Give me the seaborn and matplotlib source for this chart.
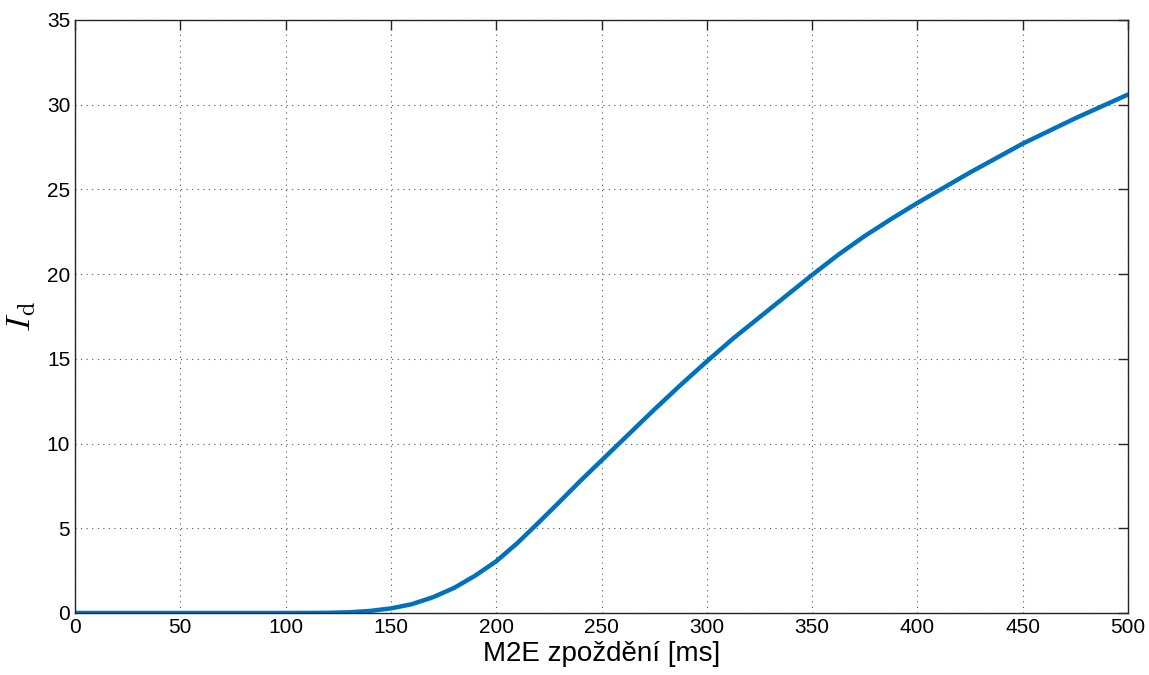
import matplotlib
matplotlib.use("Agg")
import matplotlib.pyplot as plt
import seaborn as sns
import pandas as pd

delay_ms = [0, 50, 100, 110, 120, 130, 140, 150, 160, 170, 180, 190, 200,
            210, 220, 230, 240, 250, 262.5, 275, 287.5, 300, 312.5, 325, 337.5,
            350, 362.5, 375, 387.5, 400, 425, 450, 475, 500]
id_values = [0, 0, 0, 0.003, 0.01, 0.04, 0.12, 0.27, 0.52, 0.93, 1.48, 2.2, 3.05,
             4.12, 5.32, 6.55, 7.8, 9.0, 10.5, 12.0, 13.45, 14.85, 16.2, 17.45, 18.7,
             19.95, 21.15, 22.25, 23.25, 24.2, 26.0, 27.7, 29.2, 30.6]
x_ticks = [0, 50, 100, 150, 200, 250, 300, 350, 400, 450, 500]
y_ticks = [0, 5, 10, 15, 20, 25, 30, 35]

sns.set_theme(style="white")
plt.rcParams['font.family'] = ['Liberation Sans', 'DejaVu Sans']
plt.rcParams['mathtext.fontset'] = 'cm'

df = pd.DataFrame({"x": delay_ms, "y": id_values})
fig = plt.figure(figsize=(11.49, 6.75), dpi=100)
ax = fig.add_axes([0.0653, 0.0919, 0.9164, 0.8785])
sns.lineplot(data=df, x="x", y="y", ax=ax, color="#0072BD", linewidth=3.2)

ax.set_xlim(0, 500)
ax.set_ylim(0, 35)
ax.set_xticks(x_ticks)
ax.set_yticks(y_ticks)
ax.grid(True, linestyle=(0, (1, 4)), color="#555555", linewidth=0.8)
for s in ax.spines.values():
    s.set_color("#262626")
    s.set_linewidth(1.0)
ax.tick_params(direction="in", length=7, width=1, colors="#262626",
               top=True, right=True, labelsize=15, labelcolor="black")
ax.set_xlabel("M2E zpoždění [ms]", fontsize=20, color="black", labelpad=3)
ax.set_ylabel(r"$\mathbf{\mathit{I}}_\mathrm{d}$", fontsize=25, color="black", labelpad=6)
fig.savefig("out.png", dpi=100)
